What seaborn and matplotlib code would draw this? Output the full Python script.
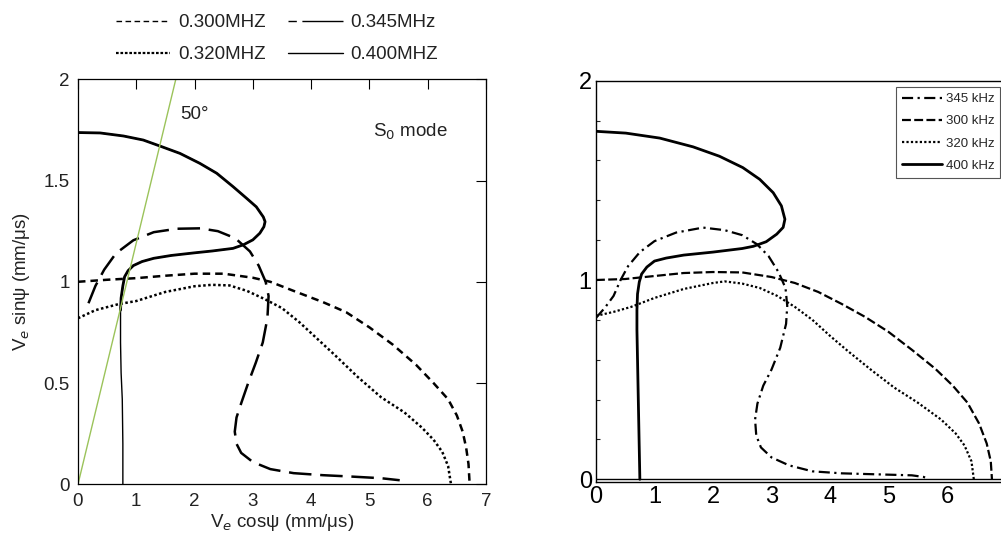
import numpy as np
import pandas as pd
import matplotlib
matplotlib.use("Agg")
import matplotlib.pyplot as plt
from matplotlib.lines import Line2D
from matplotlib.ticker import MultipleLocator
import seaborn as sns

sns.set_style("white")
plt.rcParams['font.family'] = ['Liberation Sans', 'DejaVu Sans']

# ---- left panel data (V_e cos psi, V_e sin psi) ----
l300_x = [0, 0.5, 1.0, 1.5, 2.0, 2.5, 3.0, 3.3, 3.7, 4.2, 4.6, 5.0, 5.4, 5.8, 6.1, 6.35, 6.5, 6.6, 6.66, 6.7, 6.72]
l300_y = [1.0, 1.01, 1.018, 1.03, 1.04, 1.04, 1.02, 1.0, 0.955, 0.9, 0.85, 0.775, 0.69, 0.59, 0.5, 0.42, 0.34, 0.26, 0.18, 0.1, 0]

l320_x = [0, 0.3, 0.7, 1.0, 1.5, 2.0, 2.3, 2.6, 2.9, 3.2, 3.5, 3.8, 4.1, 4.4, 4.8, 5.2, 5.6, 5.9, 6.1, 6.25, 6.35, 6.4]
l320_y = [0.82, 0.86, 0.89, 0.905, 0.95, 0.978, 0.985, 0.982, 0.955, 0.915, 0.87, 0.8, 0.72, 0.64, 0.53, 0.43, 0.355, 0.28, 0.22, 0.16, 0.09, 0]

l345_x = [0.18, 0.3, 0.45, 0.65, 0.95, 1.3, 1.7, 2.1, 2.4, 2.7, 2.95, 3.1, 3.22, 3.27, 3.25, 3.17, 3.05, 2.92, 2.8,
          2.72, 2.69, 2.72, 2.8, 3.0, 3.3, 3.7, 4.2, 4.7, 5.2, 5.52]
l345_y = [0.894, 0.98, 1.06, 1.14, 1.205, 1.245, 1.262, 1.264, 1.25, 1.215, 1.15, 1.08, 1.0, 0.93, 0.82, 0.7, 0.6, 0.5, 0.4,
          0.33, 0.26, 0.2, 0.155, 0.11, 0.075, 0.055, 0.045, 0.038, 0.03, 0.02]

l400_x = [0, 0.38, 0.78, 1.12, 1.41, 1.75, 2.09, 2.38, 2.66, 2.89, 3.06, 3.18, 3.21, 3.19, 3.12, 3.0, 2.84, 2.66, 2.3,
          2.0, 1.6, 1.3, 1.1, 0.95, 0.86, 0.8, 0.77, 0.74, 0.73, 0.73, 0.74, 0.76, 0.77, 0.77]
l400_y = [1.737, 1.735, 1.72, 1.7, 1.67, 1.634, 1.585, 1.536, 1.47, 1.413, 1.37, 1.32, 1.297, 1.272, 1.24, 1.207, 1.183,
          1.165, 1.152, 1.143, 1.13, 1.116, 1.1, 1.08, 1.055, 1.025, 0.98, 0.92, 0.86, 0.7, 0.55, 0.42, 0.2, 0]
l400_thick = 29  # points drawn thick (upper loop)

# ---- right panel data ----
r345_x = [0, 0.15, 0.3, 0.42, 0.55, 0.75, 1.0, 1.37, 1.83, 2.2, 2.5, 2.75, 2.95, 3.12, 3.24, 3.27, 3.25, 3.15, 3.0,
          2.86, 2.76, 2.72, 2.74, 2.82, 3.0, 3.3, 3.7, 4.2, 4.8, 5.4, 5.6, 5.66]
r345_y = [0.81, 0.86, 0.92, 1.0, 1.07, 1.14, 1.195, 1.238, 1.263, 1.25, 1.225, 1.18, 1.12, 1.04, 0.96, 0.87, 0.78, 0.66,
          0.55, 0.47, 0.38, 0.3, 0.22, 0.16, 0.11, 0.07, 0.04, 0.03, 0.025, 0.02, 0.012, 0.005]

r300_x = [0, 0.5, 1.0, 1.5, 2.0, 2.5, 3.0, 3.4, 3.8, 4.2, 4.6, 5.0, 5.4, 5.8, 6.1, 6.35, 6.55, 6.68, 6.75, 6.77]
r300_y = [1.0, 1.005, 1.02, 1.035, 1.04, 1.038, 1.015, 0.985, 0.94, 0.88, 0.815, 0.74, 0.65, 0.555, 0.47, 0.385, 0.28,
          0.18, 0.09, 0]

r320_x = [0, 0.3, 0.6, 1.0, 1.5, 2.0, 2.2, 2.5, 2.8, 3.1, 3.4, 3.7, 4.0, 4.3, 4.7, 5.1, 5.5, 5.9, 6.15, 6.3, 6.42, 6.46]
r320_y = [0.82, 0.84, 0.865, 0.91, 0.955, 0.985, 0.993, 0.982, 0.96, 0.92, 0.865, 0.8, 0.72, 0.645, 0.55, 0.46, 0.385,
          0.3, 0.23, 0.17, 0.09, 0]

r400_x = [0, 0.51, 1.09, 1.66, 2.11, 2.51, 2.8, 3.03, 3.17, 3.23, 3.2, 3.09, 2.91, 2.69, 2.5, 2.0, 1.5, 1.2, 1.0, 0.87,
          0.78, 0.74, 0.71, 0.7, 0.7, 0.71, 0.72, 0.73, 0.74, 0.75]
r400_y = [1.746, 1.737, 1.712, 1.668, 1.621, 1.564, 1.505, 1.438, 1.372, 1.305, 1.264, 1.23, 1.192, 1.169, 1.158, 1.14,
          1.125, 1.11, 1.095, 1.065, 1.03, 0.99, 0.93, 0.85, 0.75, 0.6, 0.45, 0.3, 0.15, 0]

left_labels = ['0.300MHZ', '0.320MHZ', '0.345MHz', '0.400MHZ']
right_labels = ['345 kHz', '300 kHz', '320 kHz', '400 kHz']

txt = '#222222'
fs = 13.5
fig = plt.figure(figsize=(10.01, 5.39), dpi=100)

# ================= left panel =================
ax1 = fig.add_axes([0.0779, 0.1015, 0.4076, 0.7514])
ls_300 = (0, (3, 2))
ls_320 = (0, (1, 1))
ls_345 = (0, (9, 3.5))
sns.lineplot(x=l300_x, y=l300_y, sort=False, estimator=None, ax=ax1, color='black', lw=1.8, linestyle=ls_300)
sns.lineplot(x=l320_x, y=l320_y, sort=False, estimator=None, ax=ax1, color='black', lw=1.8, linestyle=ls_320)
sns.lineplot(x=l345_x, y=l345_y, sort=False, estimator=None, ax=ax1, color='black', lw=1.8, linestyle=ls_345)
sns.lineplot(x=l400_x, y=l400_y, sort=False, estimator=None, ax=ax1, color='black', lw=1.0)
sns.lineplot(x=l400_x[:l400_thick], y=l400_y[:l400_thick], sort=False, estimator=None, ax=ax1, color='black', lw=2.0)

# 50 degree line
gx = np.array([0, 2 / np.tan(np.radians(50))])
ax1.plot(gx, gx * np.tan(np.radians(50)), color='#9bc35a', lw=1.0)
ax1.text(1.75, 1.824, '50°', fontsize=fs, color=txt, va='center')
ax1.text(5.06, 1.74, 'S$_0$ mode', fontsize=fs, color=txt, va='center')

ax1.set_xlim(0, 7)
ax1.set_ylim(0, 2)
ax1.set_xticks(range(8))
ax1.set_yticks([0, 0.5, 1, 1.5, 2])
ax1.set_yticklabels(['0', '0.5', '1', '1.5', '2'])
ax1.tick_params(direction='in', length=7, width=0.8, top=True, right=True, labelsize=fs, colors='black',
                labelcolor=txt, pad=6)
for s in ax1.spines.values():
    s.set_color('black')
    s.set_linewidth(0.9)
ax1.set_xlabel('V$_e$ cosψ (mm/μs)', fontsize=fs, color=txt, labelpad=2)
ax1.set_ylabel('V$_e$ sinψ (mm/μs)', fontsize=fs, color=txt, labelpad=8)

lh = [Line2D([], [], color='black', lw=1.0, linestyle=(0, (4, 2.5))),
      Line2D([], [], color='black', lw=1.6, linestyle=(0, (1.2, 0.8))),
      Line2D([], [], color='black', lw=1.0, linestyle=(0, (6, 4, 24, 0))),
      Line2D([], [], color='black', lw=1.0)]
ax1.legend(lh, left_labels, ncol=2, loc='upper left', bbox_to_anchor=(0.051, 1.203), frameon=False,
           fontsize=fs, handlelength=2.9, handletextpad=0.43, columnspacing=1.2, labelspacing=0.8,
           labelcolor=txt)

# ================= right panel =================
ax2 = fig.add_axes([0.5954, 0.1063, 0.409, 0.744])
sns.lineplot(x=r345_x, y=r345_y, sort=False, estimator=None, ax=ax2, color='black', lw=1.6,
             linestyle=(0, (5, 2, 1, 2)), label=right_labels[0])
sns.lineplot(x=r300_x, y=r300_y, sort=False, estimator=None, ax=ax2, color='black', lw=1.6,
             linestyle=(0, (4, 1.5)), label=right_labels[1])
sns.lineplot(x=r320_x, y=r320_y, sort=False, estimator=None, ax=ax2, color='black', lw=1.6,
             linestyle=(0, (1, 1)), label=right_labels[2])
sns.lineplot(x=r400_x, y=r400_y, sort=False, estimator=None, ax=ax2, color='black', lw=2.0,
             label=right_labels[3])
ax2.axhline(0, color='black', lw=1.0)
ax2.set_xlim(0, 7)
ax2.set_ylim(-0.012, 2)
ax2.set_xticks(range(7))
ax2.set_yticks([0, 1, 2])
ax2.yaxis.set_minor_locator(MultipleLocator(0.2))
ax2.tick_params(axis='both', which='major', direction='in', length=5, width=0.8, labelsize=17,
                labelcolor='black', pad=3)
ax2.tick_params(axis='y', which='minor', direction='in', length=3, width=0.8, left=True)
ax2.spines['right'].set_visible(False)
for s in ['left', 'top', 'bottom']:
    ax2.spines[s].set_color('black')
    ax2.spines[s].set_linewidth(1.0)
leg = ax2.legend(loc='upper right', bbox_to_anchor=(0.987, 0.984), borderaxespad=0, fontsize=9.5,
                 handlelength=3.0, handletextpad=0.3, labelspacing=0.75, borderpad=0.45, fancybox=False,
                 framealpha=1)
leg.get_frame().set_edgecolor('#555555')
leg.get_frame().set_linewidth(0.8)

fig.savefig('out.png', dpi=100)
